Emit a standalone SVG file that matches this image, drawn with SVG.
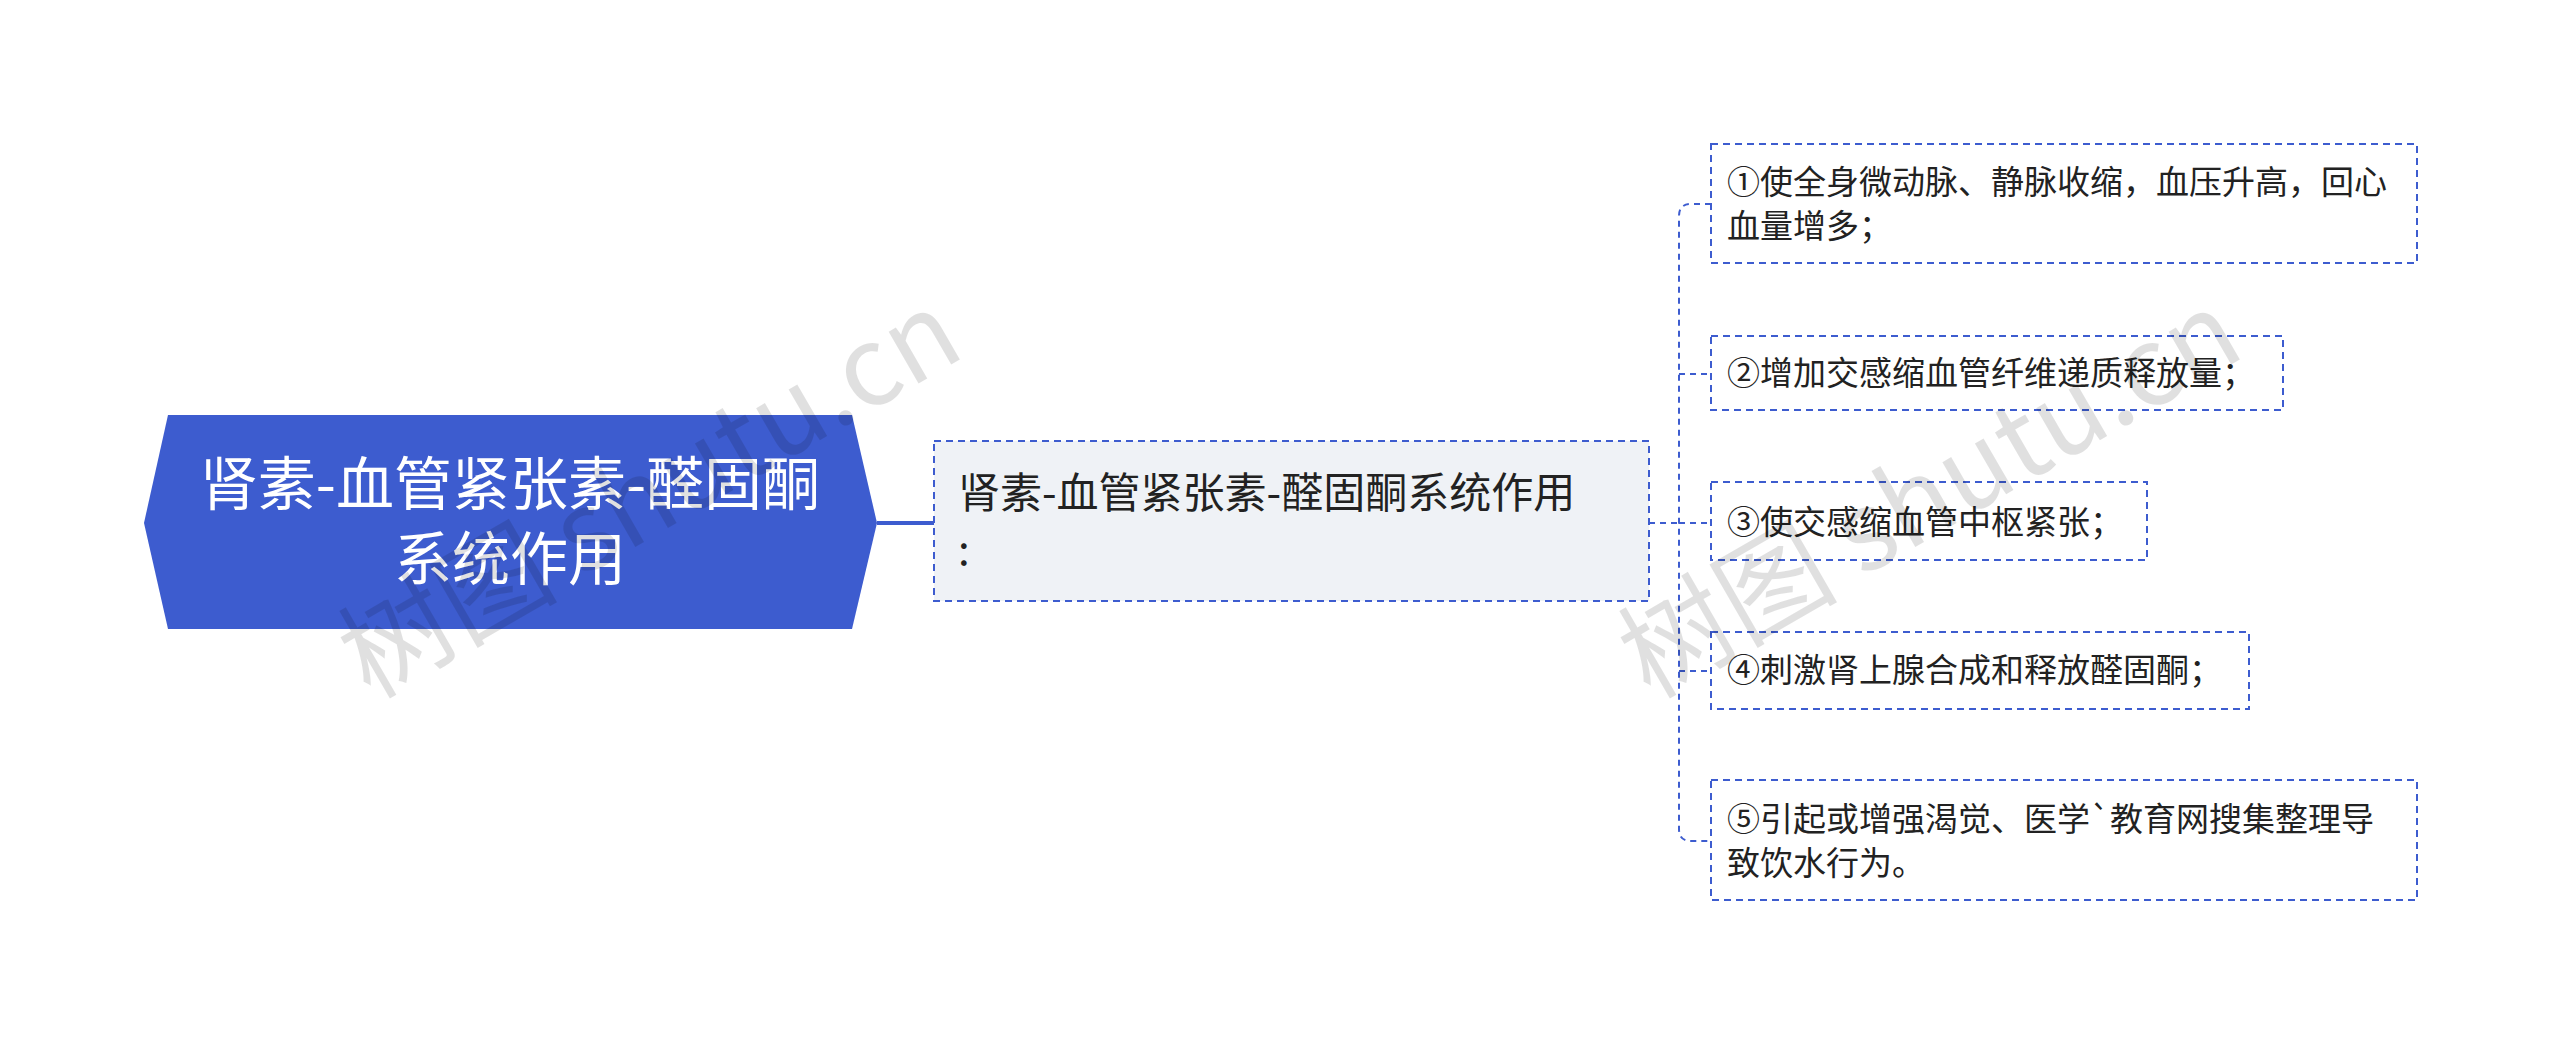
<svg xmlns="http://www.w3.org/2000/svg" width="2560" height="1045" viewBox="0 0 2560 1045">
<style>
.c{fill:none;stroke:#3d5ccf;stroke-width:2;stroke-dasharray:6 5}
.box{fill:#fff;stroke:#3d5ccf;stroke-width:2;stroke-dasharray:7 5}
.t{font-family:"Noto Sans CJK SC","Noto Sans",sans-serif;fill:#222}
.s{font-size:33px}
.wm{font-family:"Noto Sans CJK SC",sans-serif;font-size:110px;fill:#000;fill-opacity:0.12}
</style>
<rect width="2560" height="1045" fill="#fff"/>
<g id="connectors">
<line x1="877" y1="523" x2="934" y2="523" stroke="#3d5ccf" stroke-width="4"/>
<path class="c" d="M1649 523H1679"/>
<path class="c" d="M1711 204H1691Q1679 204 1679 216V829Q1679 841 1691 841H1711"/>
<path class="c" d="M1679 374H1711M1679 523H1711M1679 671H1711"/>
</g>
<g id="root">
<polygon points="144,523 168,415 852,415 877,523 852,629 168,629" fill="#3d5ccf"/>
<text class="t" x="510" y="505" font-size="58" style="fill:#fff" text-anchor="middle">肾素-血管紧张素-醛固酮</text>
<text class="t" x="510" y="580" font-size="58" style="fill:#fff" text-anchor="middle">系统作用</text>
</g>
<g id="mid">
<rect x="934" y="441" width="715" height="160" fill="#eff2f6" stroke="#3d5ccf" stroke-width="2" stroke-dasharray="7 5"/>
<text class="t" x="958" y="508" font-size="42">肾素-血管紧张素-醛固酮系统作用</text>
<text class="t" x="958" y="565" font-size="42">:</text>
</g>
<g id="n1"><rect class="box" x="1711" y="144" width="706" height="119"/>
<text class="t s" x="1727" y="194">①使全身微动脉、静脉收缩，血压升高，回心</text>
<text class="t s" x="1727" y="238">血量增多；</text></g>
<g id="n2"><rect class="box" x="1711" y="336" width="572" height="74"/>
<text class="t s" x="1727" y="385">②增加交感缩血管纤维递质释放量；</text></g>
<g id="n3"><rect class="box" x="1711" y="482" width="436" height="78"/>
<text class="t s" x="1727" y="534">③使交感缩血管中枢紧张；</text></g>
<g id="n4"><rect class="box" x="1711" y="632" width="538" height="77"/>
<text class="t s" x="1727" y="682">④刺激肾上腺合成和释放醛固酮；</text></g>
<g id="n5"><rect class="box" x="1711" y="780" width="706" height="120"/>
<text class="t s" x="1727" y="831">⑤引起或增强渴觉、医学`教育网搜集整理导</text>
<text class="t s" x="1727" y="875">致饮水行为。</text></g>
<text class="wm" transform="translate(370,700) rotate(-30)">树图 shutu.cn</text>
<text class="wm" transform="translate(1650,700) rotate(-30)">树图 shutu.cn</text>
</svg>
